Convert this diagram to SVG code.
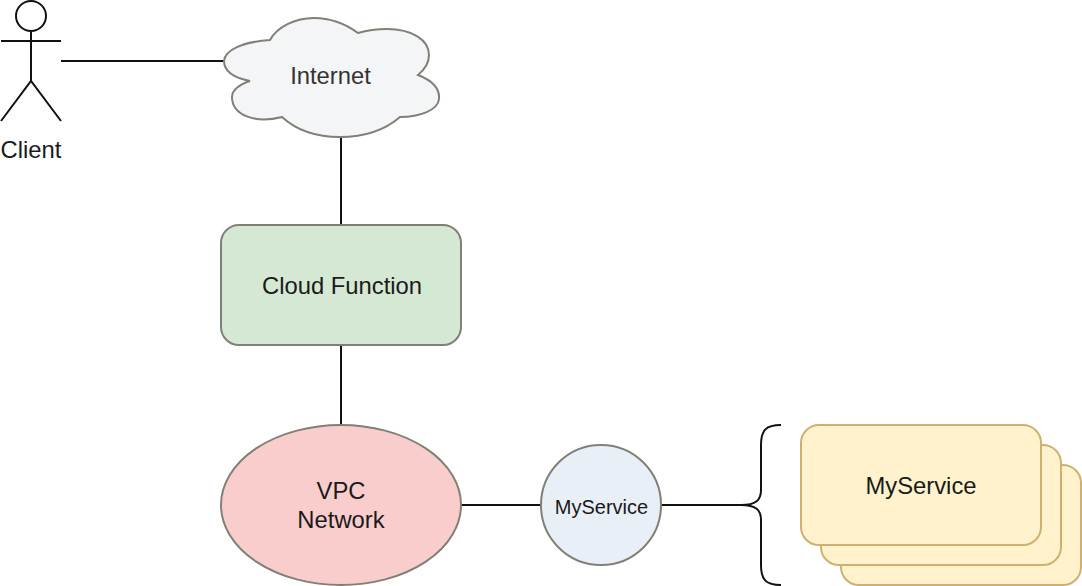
<svg xmlns="http://www.w3.org/2000/svg" width="1082" height="586" viewBox="0 0 1082 586">
<style>
text{font-family:"Liberation Sans",Arial,sans-serif;font-size:23.8px;fill:#1a1a1a;text-anchor:middle}
.l{fill:none;stroke:#111;stroke-width:2}
.y{fill:#fff2cc;stroke:#d0b070;stroke-width:2}
.g{stroke:#808076;stroke-width:2}
</style>
<rect width="1082" height="586" fill="#fff"/>
<g id="connectors" class="l">
<path d="M61 61H224"/>
<path d="M341 137V225"/>
<path d="M341 345V425"/>
<path d="M461 505H541"/>
<path d="M661 505H741"/>
</g>
<g id="client"><g class="l"><circle cx="31" cy="16" r="15"/><path d="M31 31V81M1 41H61M1 121L31 81L61 121"/></g><text x="31" y="158">Client</text></g>
<g id="internet"><path class="g" d="M224 61C225 50 242 42 270 40C277 27 295 18 314 18C332 18 347 25 358 33C368 30 378 29 387 29C412 29 429 40 429 55C429 63 424 70 418 75C431 80 440 88 439 99C438 110 420 117 400 117C385 130 365 137 340 137C315 137 295 129 282 117C255 124 232 115 232 97C232 90 240 84 250 81C235 78 224 72 224 61Z" fill="#f4f5f7"/><text x="330.500" y="84" style="fill:#333">Internet</text></g>
<g id="cloud-function"><rect class="g" x="221" y="225" width="240" height="120" rx="18" fill="#d5e8d4"/><text x="342" y="294">Cloud Function</text></g>
<g id="vpc-network"><ellipse class="g" cx="341" cy="505" rx="120" ry="80" fill="#facdcd"/><text x="341" y="499">VPC</text><text x="341" y="528">Network</text></g>
<g id="myservice-lb"><circle class="g" cx="601" cy="505" r="60" fill="#e9eff6"/><text x="601.500" y="514" style="font-size:20px">MyService</text></g>
<g id="brace"><path class="l" d="M781 425C766 425 761 430 761 445V490C761 500 756 505 741 505C756 505 761 510 761 520V565C761 580 766 585 781 585"/></g>
<g id="myservice-stack"><rect class="y" x="841" y="465" width="240" height="120" rx="18"/><rect class="y" x="821" y="445" width="240" height="120" rx="18"/><rect class="y" x="801" y="425" width="240" height="120" rx="18"/><text x="921" y="494">MyService</text></g>
</svg>
